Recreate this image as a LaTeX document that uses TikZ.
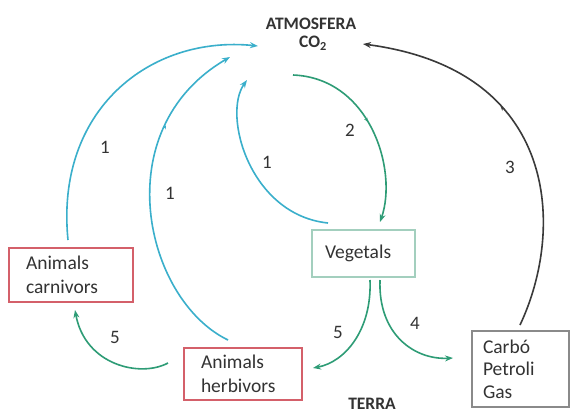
\documentclass[tikz,border=0pt]{standalone}
\usepackage{fontspec}
\setmainfont{Carlito}
\usetikzlibrary{arrows.meta,decorations.markings}
\definecolor{cyanc}{HTML}{3AAFCB}
\definecolor{greenc}{HTML}{2E9C76}
\definecolor{redc}{HTML}{D4606A}
\definecolor{vegc}{HTML}{A3CFBE}
\definecolor{grayc}{HTML}{8A8A8A}
\definecolor{txt}{HTML}{333333}
\definecolor{arcc}{HTML}{3A3A3A}
\tikzset{
  box/.style={draw, line width=1.3pt, rectangle, inner ysep=0pt, align=left,
    font=\fontsize{19.5}{24}\selectfont, text=txt},
  lbl/.style={font=\fontsize{19}{20}\selectfont, text=txt},
  title/.style={font=\bfseries\fontsize{17.5}{20}\selectfont, text=txt},
  tipstyle/.style={-{Stealth[length=8pt,width=6pt]}},
  cyanarr/.style={draw=cyanc, line width=1.6pt, tipstyle},
  greenarr/.style={draw=greenc, line width=1.6pt, tipstyle},
  blackarr/.style={draw=arcc, line width=1.6pt, tipstyle},
  midtip/.style={postaction={decorate}, decoration={markings,
    mark=at position #1 with {\arrow{Stealth[length=4pt,width=3.5pt]}}}}
}
\begin{document}
\begin{tikzpicture}[x=1pt,y=-1pt]
\useasboundingbox[fill=white] (0,0) rectangle (570,416);

% texts
\node[title] (atm) at (311,24) {ATMOSFERA};
\node[title] (co2) at (313,43) {CO\textsubscript{2}};
\node[title] (terra) at (372,404) {TERRA};

% boxes
\node[box, draw=redc, minimum width=124pt, minimum height=54pt, inner xsep=17pt, text width=90pt] (carn) at (71,275) {Animals\\carnivors};
\node[box, draw=vegc, minimum width=103pt, minimum height=47pt, inner xsep=13pt, text width=77pt] (veg) at (363.5,253.5) {Vegetals};
\node[box, draw=redc, minimum width=118pt, minimum height=52pt, inner xsep=17pt, text width=84pt] (herb) at (243,374) {Animals\\herbivors};
\node[box, draw=grayc, minimum width=97pt, minimum height=76pt, inner xsep=11pt, text width=75pt, font=\fontsize{19.5}{22.5}\selectfont] (carbo) at (520.5,369) {Carbó\\Petroli\\Gas};

% connector end points
\coordinate (c1s) at (68,240);
\coordinate (c1e) at (258,46);
\coordinate (c2s) at (228,340);
\coordinate (c2e) at (230,57);
\coordinate (c3s) at (328,223);
\coordinate (c3e) at (247,80);
\coordinate (g2s) at (293,75);
\coordinate (g2e) at (380,222);
\coordinate (b3s) at (520,325);
\coordinate (b3e) at (363,44);
\coordinate (g5s) at (370,280);
\coordinate (g5e) at (313,368);
\coordinate (g4s) at (380,280);
\coordinate (g4e) at (453,358);
\coordinate (g6s) at (168,363);
\coordinate (g6e) at (75,310);

% connectors
\draw[cyanarr] (c1s) .. controls (55,110) and (150,35) .. (c1e);
\draw[cyanarr, midtip=0.72] (c2s) .. controls (145,300) and (105,130) .. (c2e);
\draw[cyanarr] (c3s) .. controls (250,215) and (222,115) .. (c3e);
\draw[greenarr, midtip=0.47] (g2s) .. controls (370,78) and (398,170) .. (g2e);
\draw[blackarr, midtip=0.6] (b3s) .. controls (565,230) and (560,70) .. (b3e);
\draw[greenarr] (g5s) .. controls (372,330) and (345,362) .. (g5e);
\draw[greenarr] (g4s) .. controls (378,335) and (415,360) .. (g4e);
\draw[greenarr] (g6s) .. controls (140,378) and (85,365) .. (g6e);

% labels
\node[lbl] (l1a) at (105,147) {1};
\node[lbl] (l1b) at (170,193) {1};
\node[lbl] (l1c) at (267,162) {1};
\node[lbl] (l2) at (350,130) {2};
\node[lbl] (l3) at (510,167) {3};
\node[lbl] (l5a) at (115,337) {5};
\node[lbl] (l5b) at (338,332) {5};
\node[lbl] (l4) at (415,323) {4};
\end{tikzpicture}
\end{document}
